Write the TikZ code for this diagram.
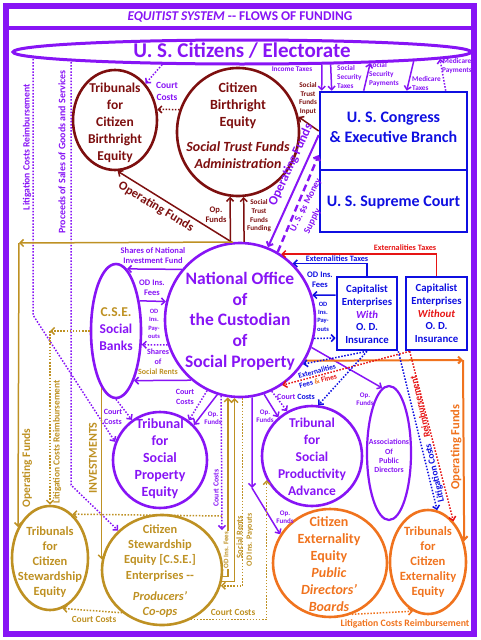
\documentclass[tikz,border=0pt]{standalone}
\usepackage{fontspec}
\setmainfont{Carlito}
\usetikzlibrary{arrows.meta,shapes.geometric,calc}
\definecolor{pur}{RGB}{135,20,245}
\definecolor{mar}{RGB}{125,15,15}
\definecolor{blu}{RGB}{15,15,225}
\definecolor{gol}{RGB}{190,145,35}
\definecolor{ora}{RGB}{240,115,30}
\definecolor{redd}{RGB}{230,20,20}
\newcommand\myfs[2]{\fontsize{#1}{#2}\selectfont}
\begin{document}
\begin{tikzpicture}[x=1pt,y=-1pt,
  >={Straight Barb[length=3.5pt,width=7pt]},
  every node/.style={align=center, inner sep=0pt, font=\bfseries},
  ell/.style={draw, ellipse, line width=2.6pt, inner sep=0pt},
  box/.style={draw=blu, rectangle, line width=2.6pt, inner sep=0pt},
  fl/.style={line width=1.5pt, ->},
  dt/.style={line width=1.5pt, dash pattern=on 1.5pt off 1.6pt, ->},
]
\useasboundingbox (0,0) rectangle (480,640);
% frame
\draw[pur, line width=6pt] (6,6) rectangle (474,634);
\draw[pur, line width=4pt] (6,28) -- (474,28);
\node[text=pur, font=\bfseries\myfs{13.4}{16}] (title) at (240,16.5) {\textit{EQUITIST SYSTEM} -{}- FLOWS OF FUNDING};

% main shapes
\node[ell, draw=pur, line width=3pt, minimum width=458pt, minimum height=24pt] (cit) at (242,52) {};
\node[text=pur, font=\bfseries\myfs{21}{24}] (citT) at (242,51) {U. S. Citizens / Electorate};

\node[ell, draw=mar, minimum width=84pt, minimum height=100pt] (tbe) at (115,120) {};
\node[text=mar, font=\bfseries\myfs{13.5}{17}] (tbeT) at (115,122.5) {Tribunals\\for\\Citizen\\Birthright\\Equity};

\node[ell, draw=mar, minimum width=122pt, minimum height=128pt] (cbe) at (238,132) {};
\node[text=mar, font=\bfseries\myfs{14}{17}] (cbeT) at (238,125.5) {Citizen\\Birthright\\Equity\\[8pt]\textit{Social Trust Funds}\\\textit{Administration}};

\node[box, minimum width=147pt, minimum height=78pt] (cong) at (393.5,131) {};
\node[text=blu, font=\bfseries\myfs{16}{19.5}] (congT) at (393.5,127.5) {U. S. Congress\\\& Executive Branch};
\node[box, minimum width=147pt, minimum height=62pt] (sup) at (393.5,201) {};
\node[text=blu, font=\bfseries\myfs{16}{19.5}] (supT) at (393.5,203) {U. S. Supreme Court};

\node[ell, draw=pur, minimum width=150pt, minimum height=154pt] (nat) at (240,320) {};
\node[text=pur, font=\bfseries\myfs{17.5}{20.75}] (natT) at (240,321) {National Office\\of\\the Custodian\\of\\Social Property};

\node[ell, draw=pur, minimum width=50pt, minimum height=134pt] (banks) at (116,331) {};
\node[text=pur, font=\bfseries\myfs{13.5}{17}] (banksT) at (116,329) {\textcolor{gol}{C.S.E.}\\Social\\Banks};

\node[box, minimum width=60pt, minimum height=73pt] (with) at (367,313.5) {};
\node[text=blu, font=\bfseries\myfs{10.8}{12.7}] (withT) at (367,314.5) {Capitalist\\Enterprises\\\textit{\textcolor{pur}{With}}\\O. D.\\Insurance};
\node[box, minimum width=61pt, minimum height=73pt] (without) at (436.5,313.5) {};
\node[text=blu, font=\bfseries\myfs{10.8}{12.7}] (withoutT) at (436.5,313.5) {Capitalist\\Enterprises\\\textit{\textcolor{redd}{Without}}\\O. D.\\Insurance};

\node[ell, draw=pur, minimum width=94pt, minimum height=96pt] (tspe) at (160,460) {};
\node[text=pur, font=\bfseries\myfs{14}{17}] (tspeT) at (160,459) {Tribunal\\for\\Social\\Property\\Equity};

\node[ell, draw=pur, minimum width=100pt, minimum height=100pt] (tspa) at (312,456) {};
\node[text=pur, font=\bfseries\myfs{13.5}{17}] (tspaT) at (312,457) {Tribunal\\for\\Social\\Productivity\\Advance};

\node[ell, draw=pur, line width=2.2pt, minimum width=44pt, minimum height=134pt] (assoc) at (389,453) {};
\node[text=pur, font=\bfseries\myfs{7.8}{9.3}] (assocT) at (389,456) {Associations\\Of\\Public\\Directors};

\node[ell, draw=gol, minimum width=76pt, minimum height=104pt] (tcse) at (50,558) {};
\node[text=gol, font=\bfseries\myfs{12.5}{15}] (tcseT) at (50,562) {Tribunals\\for\\Citizen\\Stewardship\\Equity};

\node[ell, draw=gol, minimum width=120pt, minimum height=110pt] (cse) at (162,570) {};
\node[text=gol, font=\bfseries\myfs{12.4}{15.3}] (cseT) at (160,571) {Citizen\\Stewardship\\Equity [C.S.E.]\\Enterprises -{}-\\[6pt]\textit{Producers’}\\\textit{Co-ops}};

\node[ell, draw=ora, minimum width=114pt, minimum height=108pt] (cee) at (330,563) {};
\node[text=ora, font=\bfseries\myfs{14}{17}] (ceeT) at (329,564.5) {Citizen\\Externality\\Equity\\\textit{Public}\\\textit{Directors’}\\\textit{Boards}};

\node[ell, draw=ora, minimum width=76pt, minimum height=104pt] (tcee) at (428,562) {};
\node[text=ora, font=\bfseries\myfs{12.6}{15}] (tceeT) at (428,562) {Tribunals\\for\\Citizen\\Externality\\Equity};

% coordinates for bends
\coordinate (lc1) at (33,315);
\coordinate (pc1) at (71,485);
\coordinate (gc1) at (19,243);
\coordinate (gc2) at (50,331);
\coordinate (cc1) at (222,530);
\coordinate (cc2) at (222,516);
\coordinate (op1) at (252,488);
\coordinate (oc1) at (463,360);

% ---- top connectors
\draw[dt,pur] (cit.189) -- (tbe.50);
\draw[dt,mar] (cbe.159) -- (tbe.14);
\draw[fl,mar] (nat.96) -- (tbe.-87);
\draw[fl,mar] (nat.97) -- (cbe.263);
\draw[fl,mar] (nat.87) -- (cbe.275);
\draw[fl,mar] (cong.west) -- (cbe.14);
\draw[fl,pur,line width=2pt] ([yshift=-4pt]cong.west) -- (nat.69);
\draw[pur,line width=2.4pt,dash pattern=on 7pt off 4pt,->] (nat.61) -- ([yshift=-24pt]cong.west);
\draw[fl,pur] (cit.-9) -- ([xshift=3pt]cong.north west);
\draw[fl,pur] (cit.-8) -- ([xshift=13pt]cong.north west);
\draw[fl,pur] ([xshift=45pt]cong.north west) -- (cit.-5);
\draw[fl,pur] (cit.-3) -- ([xshift=88pt]cong.north west);
\draw[dt,pur] ([xshift=127pt]cong.north west) -- (cit.-2);

% ---- left long connectors
\draw[dt,pur] (cit.181 -| lc1) -- (lc1) -- (tspe.158);
\draw[dt,pur] (cit.182 -| pc1) -- (pc1) -- (cse.138);
\draw[fl,gol] (nat.95) -- (gc1);
\draw[fl,gol] (gc1) -- (tcse.136);
\draw[dt,gol] (banks.west) -- (gc2);
\draw[dt,gol] (gc2) -- (tcse.north);
\draw[fl,gol] (banks.256) -- (banks.256 |- cse.170);

% ---- banks <-> nat
\draw[fl,pur] (nat.139) -- (banks.80);
\draw[fl,pur] (banks.52) -- (nat.166);
\draw[dt,pur] (nat.199) -- (banks.-28);
\draw[fl,pur] (nat.231) -- (banks.-70);

% ---- nat lower connectors
\draw[dt,pur] (banks.south) -- (tspe.125);
\draw[dt,pur] (nat.245) -- (tspe.54);
\draw[fl,pur] (nat.253) -- (tspe.46);
\draw[dt,pur] (nat.256) -- (cc1);
\draw[dt,gol] (cc2) -- (tcse.63);
\draw[fl,gol] (cse.-6) -| (nat.261);
\draw[fl,gol] (cse.-11) -| (nat.266);
\draw[dt,gol] (nat.272) |- (cse.-15);
\draw[fl,pur] (nat.279) -- (op1);
\draw[fl,pur] (op1) -- (cee.150);
\draw[dt,gol] (cse.-60) -| (tspa.208);
\draw[dt,gol] (cse.227) -- (tcse.284);
\draw[dt,ora] (cee.293) -- (tcee.253);
\draw[dt,pur] (nat.-66) -- (tspa.119);
\draw[fl,pur] (nat.-72) -- (tspa.131);
\draw[fl,pur] (nat.-21) -- (assoc.96);

% ---- right connectors
\draw[fl,ora,line width=2pt] (nat.328) -- (oc1);
\draw[fl,ora,line width=2pt] (oc1) -- (tcee.30);
\draw[fl,redd] (without.north) |- (nat.58);
\draw[fl,blu] (with.north) |- (nat.47);
\draw[fl,blu] ([yshift=18.5pt]with.west) -- (nat.19);
\draw[dt,blu] (nat.-14) -- ([yshift=-24.5pt]with.west);
\draw[dt,blu] (with.south) -- (nat.-35);
\draw[dt,redd] ([xshift=5pt]without.south west) -- (nat.-57);
\draw[dt,blu] (with.south) -- (tspa.83);
\draw[dt,blu] (with.south east) -- (tcee.80);
\draw[dt,redd] ([xshift=5pt]without.south west) -- (tcee.58);

% ---- labels
\node[text=pur, font=\bfseries\myfs{9.5}{12}] (lCC1) at (167,91) {Court\\Costs};
\node[text=mar, font=\bfseries\myfs{12.5}{14}, rotate=-31] (lOF1) at (156,207) {Operating Funds};
\node[text=mar, font=\bfseries\myfs{8.5}{10}] (lOpF1) at (216,215) {Op.\\Funds};
\node[text=mar, font=\bfseries\myfs{7.2}{8.7}] (lSTF) at (259,216) {Social\\Trust\\Funds\\Funding};
\node[text=mar, font=\bfseries\myfs{7.2}{8.7}] (lSTI) at (308,98.5) {Social\\Trust\\Funds\\Input};
\node[text=pur, font=\bfseries\myfs{13}{15}, rotate=65] (lOF2) at (291,165) {Operating Funds};
\node[text=pur, font=\bfseries\myfs{9.5}{11}, rotate=63] (lMS1) at (306,205) {U. S. \$s Money};
\node[text=pur, font=\bfseries\myfs{9.5}{11}, rotate=63] (lMS2) at (312.5,221) {Supply};
\node[text=pur, font=\bfseries\myfs{7.3}{9}] (lIT) at (292,69) {Income Taxes};
\node[text=pur, font=\bfseries\myfs{7.3}{9}, align=left, anchor=west] (lSST) at (337,77) {Social\\Security\\Taxes};
\node[text=pur, font=\bfseries\myfs{7.3}{9}, align=left, anchor=west] (lSSP) at (369,75) {Social\\Security\\Payments};
\node[text=pur, font=\bfseries\myfs{7.3}{9}, align=left, anchor=west] (lMT) at (412,83.5) {Medicare\\Taxes};
\node[text=pur, font=\bfseries\myfs{7.3}{9}] (lMP) at (457,66.5) {Medicare\\Payments};
\node[text=pur, font=\bfseries\myfs{9.6}{11}, rotate=90] (lLCR1) at (27,147) {Litigation Costs Reimbursement};
\node[text=pur, font=\bfseries\myfs{9.9}{11}, rotate=90] (lPS) at (62,152) {Proceeds of Sales of Goods and Services};
\node[text=pur, font=\bfseries\myfs{8.5}{10.5}] (lSNI) at (153,255.5) {Shares of National\\Investment Fund};
\node[text=pur, font=\bfseries\myfs{8.5}{10.5}] (lODF1) at (152,287.5) {OD Ins.\\Fees};
\node[text=pur, font=\bfseries\myfs{6.5}{8.5}] (lODP1) at (154,324) {OD\\Ins.\\Pay-\\outs};
\node[text=pur, font=\bfseries\myfs{8}{10}] (lSSR) at (158,362) {Shares\\of\\\textcolor{gol}{Social Rents}};
\node[text=gol, font=\bfseries\myfs{11.5}{13}, rotate=90] (lOF3) at (27,468) {Operating Funds};
\node[text=gol, font=\bfseries\myfs{9.4}{11}, rotate=90] (lLCR2) at (57,442) {Litigation Costs Reimbursement};
\node[text=gol, font=\bfseries\myfs{12}{14}, rotate=90] (lINV) at (93,458) {INVESTMENTS};
\node[text=pur, font=\bfseries\myfs{8}{10}] (lCC2) at (113,417) {Court\\Costs};
\node[text=pur, font=\bfseries\myfs{8}{10}] (lCC3) at (185,397) {Court\\Costs};
\node[text=pur, font=\bfseries\myfs{7}{8.5}] (lOpF2) at (213,418) {Op.\\Funds};
\node[text=pur, font=\bfseries\myfs{7.8}{9}, rotate=90] (lCC4) at (216,488) {Court Costs};
\node[text=gol, font=\bfseries\myfs{7}{8}, rotate=90, fill=white, inner sep=1pt] (lODF2) at (226,550) {OD Ins. Fees};
\node[text=gol, font=\bfseries\myfs{8.5}{10}, rotate=90] (lSR) at (239.5,537) {Social Rents};
\node[text=gol, font=\bfseries\myfs{8}{10}, rotate=90] (lODP2) at (250,540) {OD Ins. Payouts};
\node[text=pur, font=\bfseries\myfs{7}{8.5}] (lOpF3) at (285,517) {Op.\\Funds};
\node[text=gol, font=\bfseries\myfs{9.4}{11}] (lCC5) at (94,619) {Court Costs};
\node[text=gol, font=\bfseries\myfs{9.4}{11}] (lCC6) at (233,612) {Court Costs};
\node[text=ora, font=\bfseries\myfs{9.8}{11}] (lLCR3) at (405,624) {Litigation Costs Reimbursement};
\node[text=ora, font=\bfseries\myfs{12.5}{14}, rotate=90] (lOF4) at (456,447) {Operating Funds};
\node[text=redd, font=\bfseries\myfs{8.2}{10}] (lET1) at (405,247.5) {Externalities Taxes};
\node[text=blu, font=\bfseries\myfs{8.2}{10}] (lET2) at (337,259) {Externalities Taxes};
\node[text=blu, font=\bfseries\myfs{8.5}{10}] (lODF3) at (320,280) {OD Ins.\\Fees};
\node[text=blu, font=\bfseries\myfs{6.5}{8.3}] (lODP3) at (323,316.5) {OD\\Ins.\\Pay-\\outs};
\node[text=blu, font=\bfseries\myfs{7.5}{9}, rotate=16] (lEFF1) at (317,371) {Externalities};
\node[font=\bfseries\myfs{7.5}{9}, rotate=16] (lEFF2) at (318,381) {\textcolor{blu}{Fees} \textcolor{ora}{\&} \textcolor{redd}{Fines}};
\node[font=\bfseries\myfs{8}{10}] (lCC7) at (296,397) {\textcolor{pur}{Court} \textcolor{blu}{Costs}};
\node[text=pur, font=\bfseries\myfs{7}{8}] (lOpF4) at (265,416) {Op.\\Funds};
\node[text=pur, font=\bfseries\myfs{7}{8}] (lOpF5) at (365,399) {Op.\\Funds};
\node[text=blu, font=\bfseries\myfs{9.5}{11}, rotate=103] (lLC) at (435,473) {Litigation Costs};
\node[text=redd, font=\bfseries\myfs{9.5}{11}, rotate=103] (lRB) at (420,407) {Reimbursement};
\end{tikzpicture}
\end{document}
